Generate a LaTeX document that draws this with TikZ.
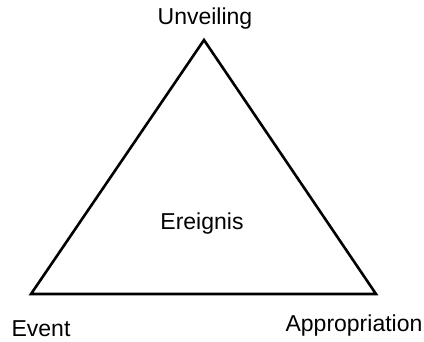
\documentclass[tikz,border=0pt]{standalone}
\usepackage{fontspec}
\setmainfont{Liberation Sans}
\begin{document}
\begin{tikzpicture}[x=1pt,y=-1pt,
  lbl/.style={font=\fontsize{23}{27}\selectfont, inner sep=0pt},
  edge/.style={line width=2.6pt, line join=miter}]
\useasboundingbox (0,0) rectangle (424,341);
\coordinate (top) at (204,40);
\coordinate (bl) at (31,294);
\coordinate (br) at (376,294);
\draw[edge] (top) -- (bl) -- (br) -- cycle;
\node[lbl] (unv) at (205,19) {Unveiling};
\node[lbl] (ere) at (202,224) {Ereignis};
\node[lbl] (evt) at (41,329) {Event};
\node[lbl] (app) at (354,326) {Appropriation};
\end{tikzpicture}
\end{document}
